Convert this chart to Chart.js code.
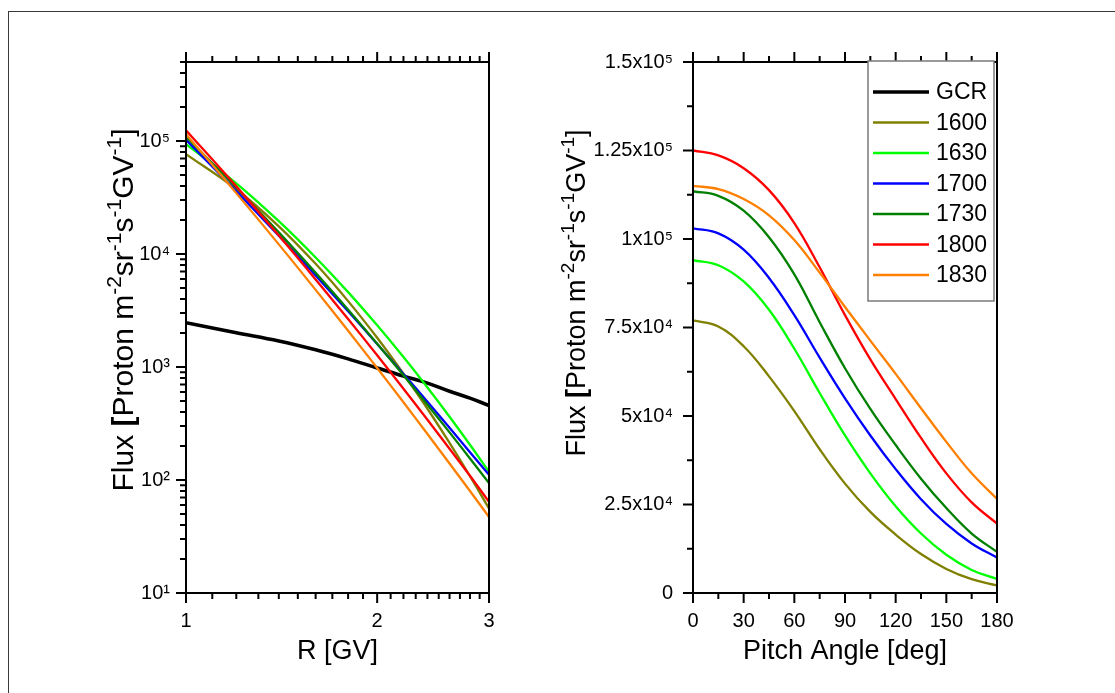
<!DOCTYPE html>
<html>
<head>
<meta charset="utf-8">
<script src="https://cdn.jsdelivr.net/npm/chart.js@4.4.1/dist/chart.umd.min.js"></script>
<style>
html,body{margin:0;padding:0;background:#fff;}
body{width:1115px;height:693px;position:relative;overflow:hidden;}
#frame{position:absolute;left:8px;top:11px;width:1200px;height:800px;border-left:1.5px solid #3a3a3a;border-top:1.5px solid #3a3a3a;}
#c1{position:absolute;left:0;top:0;}
#c2{position:absolute;left:557px;top:0;}
</style>
</head>
<body>
<div id="frame"></div>
<canvas id="c1" width="557" height="693"></canvas>
<canvas id="c2" width="558" height="693"></canvas>
<script>
// ---------- data ----------
const seriesNames  = ['GCR','1600','1630','1700','1730','1800','1830'];
const seriesColors = ['#000000','#808000','#00ff00','#0000ff','#008000','#ff0000','#ff8000'];

// left panel: flux vs rigidity
const rigidity = [1, 1.2, 1.4, 1.6, 1.8, 2, 2.2, 2.4, 2.6, 2.8, 3];
const fluxGCR  = [2466, 2010, 1700, 1420, 1180, 980, 830, 720, 610, 530, 456];
const flux1600 = [76560, 37410, 17580, 8182, 3827, 1813, 872, 427, 213, 108, 56];
const flux1630 = [93760, 42200, 19520, 9322, 4598, 2338, 1224, 658, 363, 205, 118];
const flux1700 = [102300, 36030, 14490, 6451, 3110, 1599, 867, 492, 290, 176, 111];
const flux1730 = [108600, 38760, 15530, 6807, 3208, 1605, 844, 463, 264, 155, 94];
const flux1800 = [124500, 39660, 14560, 5959, 2656, 1269, 642, 341, 189, 109, 64];
const flux1830 = [114800, 34560, 12160, 4814, 2091, 979, 487, 255, 140, 80, 47];

// right panel: flux vs pitch angle
const pitchAngle = [0, 15, 30, 45, 60, 75, 90, 105, 120, 135, 150, 165, 180];
const pa1600 = [77000, 75300, 69700, 61200, 51400, 40600, 30900, 22900, 16500, 11000, 6800, 3900, 2150];
const pa1630 = [94000, 92600, 88000, 80000, 69000, 56500, 44500, 33800, 24500, 16800, 10800, 6500, 3950];
const pa1700 = [103000, 101600, 97000, 89000, 78500, 66500, 55000, 44500, 35000, 26500, 19500, 14000, 10000];
const pa1730 = [113500, 112200, 108000, 100500, 90000, 76500, 63500, 52000, 41800, 32300, 24000, 16800, 11600];
const pa1800 = [125000, 123600, 120000, 113800, 104500, 92000, 78500, 66000, 54800, 43800, 33800, 25600, 19600];
const pa1830 = [115000, 114100, 111300, 106700, 99700, 90500, 80800, 71300, 61900, 52200, 42700, 33800, 26600];

// tick values and labels
const rTicks = [1, 2, 3];
const rTickLabels = ['1', '2', '3'];
const fluxTicks = [10, 100, 1000, 10000, 100000];
const fluxTickLabels = ['10\u00B9', '10\u00B2', '10\u00B3', '10\u2074', '10\u2075'];
const angleTicks = [0, 30, 60, 90, 120, 150, 180];
const angleTickLabels = ['0', '30', '60', '90', '120', '150', '180'];
const paFluxTicks = [0, 25000, 50000, 75000, 100000, 125000, 150000];
const paFluxTickLabels = ['0', '2.5x10\u2074', '5x10\u2074', '7.5x10\u2074', '1x10\u2075', '1.25x10\u2075', '1.5x10\u2075'];

const xTitleLeft = 'R [GV]';
const xTitleRight = 'Pitch Angle [deg]';
// y title as [text, style] pieces: 0 = normal, 1 = superscript, 2 = bold
const yTitleParts = [['Flux ', 0], ['[', 2], ['Proton m', 0], ['-2', 1], ['sr', 0], ['-1', 1], ['s', 0], ['-1', 1], ['GV', 0], ['-1', 1], [']', 0]];

// ---------- helpers ----------
const FONT = "'Liberation Sans', Arial, Helvetica, sans-serif";

function toXY(xs, ys) { return xs.map((x, i) => ({x: x, y: ys[i]})); }

const leftSeries  = [fluxGCR, flux1600, flux1630, flux1700, flux1730, flux1800, flux1830];
const rightSeries = [pa1600, pa1630, pa1700, pa1730, pa1800, pa1830];

// minor tick positions
const rMinor = [];
for (let v = 1.1; v < 2.95; v += 0.1) { const r = Math.round(v * 10) / 10; if (r !== 2) rMinor.push(r); }
const fluxMinor = [];
for (let d = 10; d <= 100000; d *= 10) for (let k = 2; k <= 9; k++) if (k * d <= 500000) fluxMinor.push(k * d);
const angleMinor = [15, 45, 75, 105, 135, 165];
const paMinor = [12500, 37500, 62500, 87500, 112500, 137500];

function drawYTitle(ctx, cx, cy, base, sup) {
  const fontOf = st => (st === 2 ? 'bold ' : '') + (st === 1 ? sup : base) + 'px ' + FONT;
  ctx.save();
  ctx.translate(cx, cy);
  ctx.rotate(-Math.PI / 2);
  let w = 0;
  yTitleParts.forEach(p => { ctx.font = fontOf(p[1]); w += ctx.measureText(p[0]).width; });
  let x = -w / 2;
  ctx.textBaseline = 'alphabetic';
  ctx.textAlign = 'left';
  ctx.fillStyle = '#000';
  yTitleParts.forEach(p => {
    ctx.font = fontOf(p[1]);
    ctx.fillText(p[0], x, p[1] === 1 ? -base * 0.4 : 0);
    x += ctx.measureText(p[0]).width;
  });
  ctx.restore();
}

function axesPlugin(cfg) {
  return {
    id: 'axesFrame',
    afterDatasetsDraw(chart) {
      const {ctx, chartArea: a, scales} = chart;
      const x = scales.x, y = scales.y;
      ctx.save();
      ctx.strokeStyle = '#000';
      ctx.lineWidth = 2;
      ctx.beginPath();
      ctx.rect(a.left, a.top, a.right - a.left, a.bottom - a.top);
      ctx.stroke();
      ctx.beginPath();
      const seg = (x1, y1, x2, y2) => { ctx.moveTo(x1, y1); ctx.lineTo(x2, y2); };
      cfg.xMajor.forEach(v => { const p = x.getPixelForValue(v); seg(p, a.bottom, p, a.bottom + 10); seg(p, a.top, p, a.top - 10); });
      cfg.xMinor.forEach(v => { const p = x.getPixelForValue(v); seg(p, a.bottom, p, a.bottom + 6); seg(p, a.top, p, a.top - 6); });
      cfg.yMajor.forEach(v => { const p = y.getPixelForValue(v); seg(a.left, p, a.left - 10, p); });
      cfg.yMinor.forEach(v => { const p = y.getPixelForValue(v); seg(a.left, p, a.left - 6, p); });
      ctx.stroke();
      ctx.restore();
      drawYTitle(ctx, cfg.titleX, cfg.titleY, cfg.titleSize, cfg.supSize);
    }
  };
}

const legendPlugin = {
  id: 'boxLegend',
  afterDraw(chart) {
    const {ctx} = chart;
    const bx = 311, by = 61, bw = 126, bh = 240;
    ctx.save();
    ctx.fillStyle = '#fff';
    ctx.fillRect(bx, by, bw, bh);
    ctx.strokeStyle = '#7a7a7a';
    ctx.lineWidth = 1.5;
    ctx.strokeRect(bx, by, bw, bh);
    ctx.font = '23px ' + FONT;
    ctx.textBaseline = 'middle';
    ctx.textAlign = 'left';
    seriesNames.forEach((n, i) => {
      const yy = 92 + i * 30.5;
      ctx.strokeStyle = seriesColors[i];
      ctx.lineWidth = i === 0 ? 3.5 : 2.5;
      ctx.beginPath(); ctx.moveTo(316, yy); ctx.lineTo(372, yy); ctx.stroke();
      ctx.fillStyle = '#000';
      ctx.fillText(n, 379, yy + 1);
    });
    ctx.restore();
  }
};

function tickOpts(values, labels, pad) {
  return {
    color: '#000',
    font: {family: FONT, size: 20},
    padding: pad,
    autoSkip: false,
    maxRotation: 0,
    callback: function (v) { const i = values.indexOf(v); return i >= 0 ? labels[i] : ''; }
  };
}
function fixTicks(values) {
  return function (scale) { scale.ticks = values.map(v => ({value: v})); };
}
function titleOpts(text, pad) {
  return {display: true, text: text, color: '#000', font: {family: FONT, size: 27}, padding: pad};
}

Chart.defaults.font.family = FONT;

// ---------- left chart ----------
new Chart(document.getElementById('c1'), {
  type: 'line',
  data: {
    datasets: leftSeries.map((s, i) => ({
      label: seriesNames[i],
      data: toXY(rigidity, s),
      borderColor: seriesColors[i],
      backgroundColor: seriesColors[i],
      borderWidth: i === 0 ? 3.6 : 2.3,
      pointRadius: 0,
      tension: 0.4,
      fill: false,
      order: seriesNames.length - i
    }))
  },
  options: {
    responsive: false,
    animation: false,
    layout: {padding: {left: 0, right: 68, top: 62, bottom: 0}},
    plugins: {legend: {display: false}, tooltip: {enabled: false}},
    scales: {
      x: {
        type: 'logarithmic', position: 'bottom', min: 1, max: 3,
        afterBuildTicks: fixTicks(rTicks),
        afterFit: s => { s.height = 100; },
        grid: {display: false, drawTicks: false},
        border: {display: false},
        ticks: tickOpts(rTicks, rTickLabels, 16),
        title: titleOpts(xTitleLeft, {bottom: 25, top: 0})
      },
      y: {
        type: 'logarithmic', position: 'left', min: 10, max: 500000,
        afterBuildTicks: fixTicks(fluxTicks),
        afterFit: s => { s.width = 186; },
        grid: {display: false, drawTicks: false},
        border: {display: false},
        ticks: tickOpts(fluxTicks, fluxTickLabels, 16),
        title: {display: false}
      }
    }
  },
  plugins: [axesPlugin({xMajor: rTicks, xMinor: rMinor, yMajor: fluxTicks, yMinor: fluxMinor,
                        titleX: 133, titleY: 310, titleSize: 30, supSize: 21})]
});

// ---------- right chart ----------
new Chart(document.getElementById('c2'), {
  type: 'line',
  data: {
    datasets: rightSeries.map((s, i) => ({
      label: seriesNames[i + 1],
      data: toXY(pitchAngle, s),
      borderColor: seriesColors[i + 1],
      backgroundColor: seriesColors[i + 1],
      borderWidth: 2.3,
      pointRadius: 0,
      tension: 0.4,
      fill: false,
      order: rightSeries.length - i
    }))
  },
  options: {
    responsive: false,
    animation: false,
    layout: {padding: {left: 0, right: 118, top: 62, bottom: 0}},
    plugins: {legend: {display: false}, tooltip: {enabled: false}},
    scales: {
      x: {
        type: 'linear', position: 'bottom', min: 0, max: 180,
        afterBuildTicks: fixTicks(angleTicks),
        afterFit: s => { s.height = 100; },
        grid: {display: false, drawTicks: false},
        border: {display: false},
        ticks: tickOpts(angleTicks, angleTickLabels, 16),
        title: titleOpts(xTitleRight, {bottom: 25, top: 0})
      },
      y: {
        type: 'linear', position: 'left', min: 0, max: 150000,
        afterBuildTicks: fixTicks(paFluxTicks),
        afterFit: s => { s.width = 136; },
        grid: {display: false, drawTicks: false},
        border: {display: false},
        ticks: tickOpts(paFluxTicks, paFluxTickLabels, 20),
        title: {display: false}
      }
    }
  },
  plugins: [axesPlugin({xMajor: angleTicks, xMinor: angleMinor, yMajor: paFluxTicks, yMinor: paMinor,
                        titleX: 28, titleY: 293, titleSize: 27, supSize: 19}), legendPlugin]
});
</script>
</body>
</html>
